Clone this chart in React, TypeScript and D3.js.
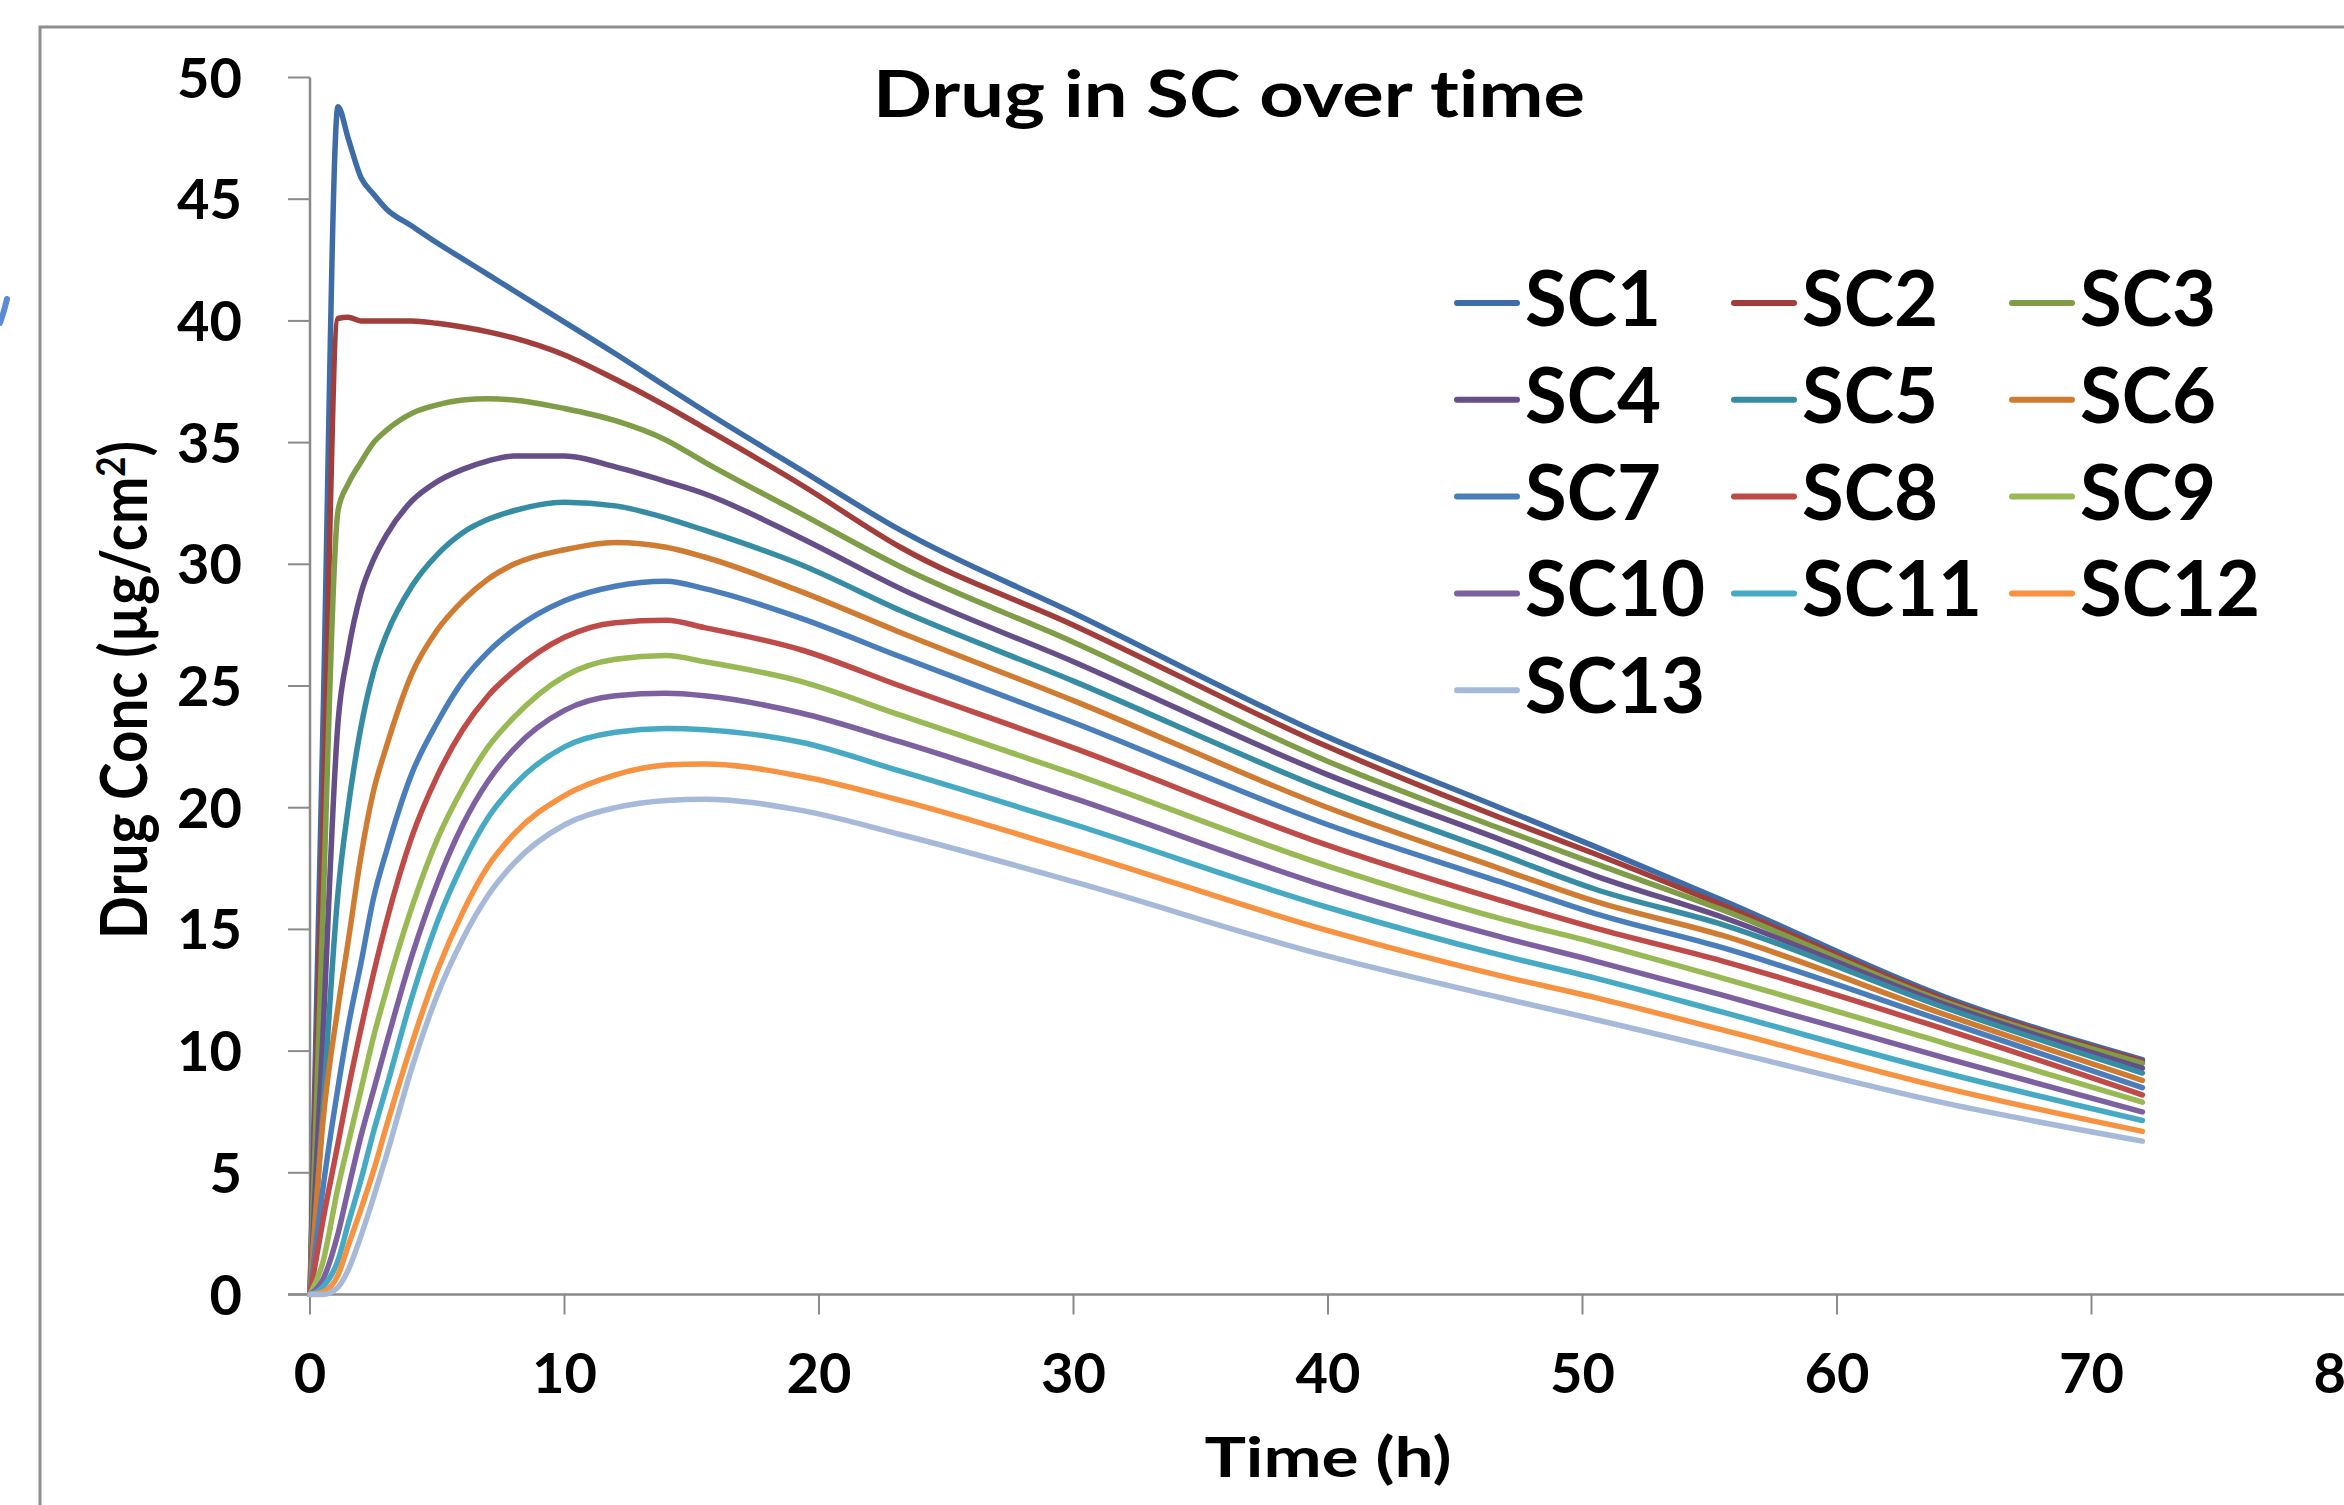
import * as d3 from 'd3';

const W = 2344;
const H = 1505;

// time points (h)
const hours = [0, 0.5, 1.1, 1.5, 2, 2.5, 3, 4, 5, 6, 7, 8, 10, 12, 14, 15.5, 19.25, 23.2, 30, 40, 46.75, 50.5, 55.5, 64.3, 72];

const sc1 = [0, 23, 48.8, 47.5, 45.9, 45.2, 44.6, 43.9, 43.2, 42.55, 41.9, 41.25, 39.95, 38.65, 37.3, 36.3, 33.9, 31.4, 28.0, 22.9, 20.0, 18.4, 16.2, 12.2, 9.65];
const sc2 = [0, 19, 40.1, 40.15, 40.0, 40.0, 40.0, 40.0, 39.9, 39.75, 39.55, 39.3, 38.6, 37.6, 36.5, 35.6, 33.3, 30.7, 27.5, 22.5, 19.6, 18.1, 16.0, 12.1, 9.58];
const sc3 = [0, 15.5, 32.2, 33.3, 34.2, 35.0, 35.5, 36.2, 36.55, 36.75, 36.8, 36.75, 36.4, 35.9, 35.1, 34.2, 32.1, 29.9, 26.8, 21.9, 19.15, 17.7, 15.8, 12.0, 9.5];
const sc4 = [0, 10.5, 23.5, 26.4, 28.8, 30.2, 31.2, 32.6, 33.4, 33.9, 34.25, 34.45, 34.45, 34.0, 33.4, 32.9, 31.1, 29.0, 26.0, 21.35, 18.7, 17.2, 15.5, 11.9, 9.3];
const sc5 = [0, 7.5, 16.5, 20.0, 23.3, 25.6, 27.1, 29.1, 30.4, 31.3, 31.85, 32.2, 32.55, 32.4, 31.9, 31.4, 30.0, 28.1, 25.2, 20.7, 18.1, 16.65, 15.2, 11.76, 9.1];
const sc6 = [0, 7.0, 11.8, 14.5, 18.0, 20.7, 22.5, 25.5, 27.3, 28.5, 29.4, 30.0, 30.6, 30.9, 30.7, 30.3, 28.9, 27.2, 24.4, 20.0, 17.5, 16.15, 14.75, 11.48, 8.8];
const sc7 = [0, 4.3, 8.5, 11.0, 13.6, 16.3, 18.2, 21.4, 23.5, 25.2, 26.4, 27.3, 28.5, 29.1, 29.3, 29.0, 27.8, 26.2, 23.5, 19.3, 16.96, 15.65, 14.25, 11.2, 8.5];
const sc8 = [0, 3.0, 6.2, 8.4, 10.9, 13.2, 15.3, 18.8, 21.3, 23.2, 24.6, 25.6, 27.0, 27.6, 27.7, 27.4, 26.5, 25.0, 22.46, 18.45, 16.2, 15.05, 13.7, 10.87, 8.2];
const sc9 = [0, 1.3, 4.4, 6.2, 8.4, 10.6, 12.5, 15.9, 18.7, 20.8, 22.5, 23.7, 25.4, 26.1, 26.25, 26.0, 25.2, 23.8, 21.39, 17.6, 15.45, 14.45, 13.0, 10.3, 7.9];
const sc10 = [0, 0.6, 2.5, 4.3, 6.5, 8.4, 10.3, 13.9, 16.9, 19.3, 21.1, 22.4, 24.0, 24.6, 24.7, 24.6, 23.9, 22.7, 20.39, 16.75, 14.7, 13.7, 12.3, 9.7, 7.5];
const sc11 = [0, 0.3, 1.4, 2.9, 4.7, 6.7, 8.5, 12.2, 15.3, 17.7, 19.6, 20.9, 22.5, 23.1, 23.25, 23.2, 22.7, 21.5, 19.32, 15.9, 13.95, 13.0, 11.6, 9.09, 7.15];
const sc12 = [0, 0.1, 0.8, 2.0, 3.5, 5.1, 6.9, 10.3, 13.3, 15.7, 17.6, 18.9, 20.5, 21.35, 21.75, 21.8, 21.3, 20.3, 18.22, 14.95, 13.1, 12.2, 10.87, 8.47, 6.7];
const sc13 = [0, 0, 0.3, 1.0, 2.4, 4.0, 5.7, 9.3, 12.3, 14.6, 16.4, 17.7, 19.3, 20.0, 20.3, 20.35, 19.9, 18.9, 16.96, 13.9, 12.2, 11.3, 10.05, 7.85, 6.3];

const seriesNames = ['SC1', 'SC2', 'SC3', 'SC4', 'SC5', 'SC6', 'SC7', 'SC8', 'SC9', 'SC10', 'SC11', 'SC12', 'SC13'];
const seriesValues = [sc1, sc2, sc3, sc4, sc5, sc6, sc7, sc8, sc9, sc10, sc11, sc12, sc13];
const seriesColors = ['#3e6ca7', '#a13d3a', '#7f9c46', '#664e88', '#368da3', '#d07b32', '#4a7ebb', '#be4b48', '#98b954', '#7d60a0', '#46aac5', '#f69240', '#a7b9d9'];

const xTicks = [0, 10, 20, 30, 40, 50, 60, 70, 80];
const yTicks = [0, 5, 10, 15, 20, 25, 30, 35, 40, 45, 50];

const FONT = "Lato, 'Open Sans', sans-serif";
const AXIS = '#8a8a8a';
const noLig = { fontVariantLigatures: 'none' as const };

export default function App() {
  const x = d3.scaleLinear().domain([0, 80]).range([310, 2346]);
  const y = d3.scaleLinear().domain([0, 50]).range([1294.5, 77.5]);

  const line = d3
    .line<[number, number]>()
    .x((d) => x(d[0]))
    .y((d) => y(d[1]))
    .curve(d3.curveMonotoneX);

  const legendCol = [1457, 1734, 2012];
  const legendRow0 = 303;
  const legendStep = 96.8;

  return (
    <svg
      width={W}
      height={H}
      style={{ position: 'absolute', left: 0, top: 0, display: 'block', background: '#fff' }}
    >
      <rect x={0} y={0} width={W} height={H} fill="#fff" />
      {/* chart frame, cut off at the right and bottom */}
      <rect x={40} y={27} width={W + 100} height={H + 100} fill="none" stroke="#8e8e8e" strokeWidth={3} />
      {/* stray blue mark at the left edge */}
      <path d="M7,299 Q4,312 0,323" fill="none" stroke="#5b8cd2" strokeWidth={6} strokeLinecap="round" />

      <text x={1229} y={116.7} textAnchor="middle" fontFamily={FONT} fontWeight={700} fontSize={65} textLength={712} lengthAdjust="spacingAndGlyphs" style={noLig}>
        Drug in SC over time
      </text>

      {/* y axis */}
      <line x1={x(0)} x2={x(0)} y1={y(50)} y2={y(0)} stroke={AXIS} strokeWidth={2.5} />
      {yTicks.map((t) => (
        <g key={'y' + t}>
          <line x1={288} x2={x(0)} y1={y(t)} y2={y(t)} stroke={AXIS} strokeWidth={2} />
          <text x={242} y={y(t) + 20} textAnchor="end" fontFamily={FONT} fontWeight={700} fontSize={56}>
            {t}
          </text>
        </g>
      ))}

      {/* x axis */}
      <line x1={288} x2={W + 10} y1={y(0)} y2={y(0)} stroke={AXIS} strokeWidth={2.5} />
      {xTicks.map((t) => (
        <g key={'x' + t}>
          <line x1={x(t)} x2={x(t)} y1={y(0)} y2={y(0) + 20} stroke={AXIS} strokeWidth={2} />
          <text x={x(t)} y={1393} textAnchor="middle" fontFamily={FONT} fontWeight={700} fontSize={56}>
            {t}
          </text>
        </g>
      ))}

      <text x={1328} y={1477} textAnchor="middle" fontFamily={FONT} fontWeight={700} fontSize={55} textLength={247} lengthAdjust="spacingAndGlyphs" style={noLig}>
        Time (h)
      </text>

      <g transform="translate(147,690) rotate(-90)">
        <text x={0} y={0} textAnchor="middle" fontFamily={FONT} fontWeight={700} fontSize={65} textLength={498} lengthAdjust="spacingAndGlyphs" style={noLig}>
          <tspan>Drug Conc (µg/cm</tspan>
          <tspan dy={-22} fontSize={40}>2</tspan>
          <tspan dy={22}>)</tspan>
        </text>
      </g>

      {/* series */}
      {seriesValues.map((vals, i) => (
        <path
          key={seriesNames[i]}
          d={line(hours.map((h, k) => [h, vals[k]] as [number, number])) || ''}
          fill="none"
          stroke={seriesColors[i]}
          strokeWidth={5.5}
          strokeLinejoin="round"
          strokeLinecap="round"
        />
      ))}

      {/* legend */}
      {seriesNames.map((name, i) => {
        const cx = legendCol[i % 3];
        const cy = legendRow0 + Math.floor(i / 3) * legendStep;
        return (
          <g key={'lg' + name}>
            <line x1={cx} x2={cx + 60} y1={cy} y2={cy} stroke={seriesColors[i]} strokeWidth={6} strokeLinecap="round" />
            <text x={cx + 68} y={cy + 23} fontFamily={FONT} fontWeight={700} fontSize={76}>
              {name}
            </text>
          </g>
        );
      })}
    </svg>
  );
}
